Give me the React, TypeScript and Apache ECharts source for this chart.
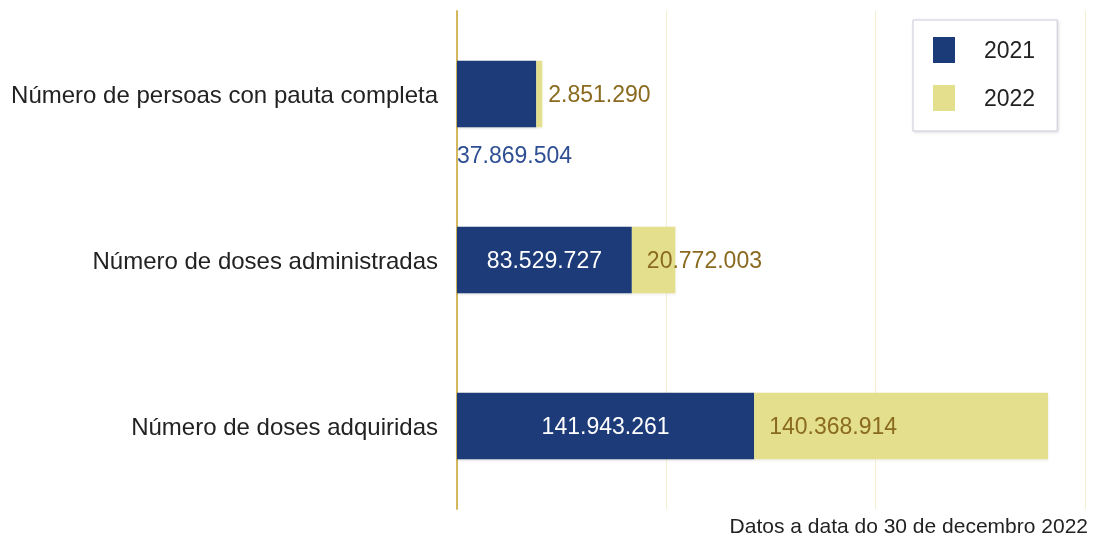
import React, { useEffect, useRef } from "react";
import * as echarts from "echarts";

const categories = [
  "Número de persoas con pauta completa",
  "Número de doses administradas",
  "Número de doses adquiridas",
];
const values2021 = [37869504, 83529727, 141943261];
const values2022 = [2851290, 20772003, 140368914];
const seriesNames = ["2021", "2022"];
const footnote = "Datos a data do 30 de decembro 2022";

const fmt = (v: number) => v.toString().replace(/\B(?=(\d{3})+(?!\d))/g, ".");

export default function App() {
  const ref = useRef<HTMLDivElement>(null);
  useEffect(() => {
    if (!ref.current) return;
    const chart = echarts.init(ref.current, null, { renderer: "svg" });
    const font = "Liberation Sans, Arial, sans-serif";
    chart.setOption({
      animation: false,
      textStyle: { fontFamily: font },
      grid: { left: 457, right: 11, top: 11, bottom: 34 },
      legend: {
        orient: "vertical",
        left: 913,
        top: 20,
        padding: [17, 22, 20, 20],
        itemWidth: 22,
        itemHeight: 26,
        itemGap: 22,
        borderColor: "#c9c9d9",
        borderWidth: 1,
        backgroundColor: "#fff",
        shadowBlur: 3,
        shadowColor: "rgba(0,0,0,0.15)",
        shadowOffsetX: 1,
        shadowOffsetY: 1,
        icon: "rect",
        textStyle: { fontSize: 23, color: "#222", padding: [0, 0, 0, 24], fontFamily: font },
        data: seriesNames,
      },
      xAxis: {
        type: "value",
        min: 0,
        max: 300000000,
        interval: 100000000,
        axisLabel: { show: false },
        axisLine: { show: false },
        axisTick: { show: false },
        splitLine: { show: true, lineStyle: { color: "#f4efcf", width: 1 } },
      },
      yAxis: {
        type: "category",
        inverse: true,
        data: categories,
        axisLine: { show: true, lineStyle: { color: "#d4b860", width: 2 } },
        axisTick: { show: false },
        axisLabel: { fontSize: 24, color: "#222", margin: 19, fontFamily: font },
      },
      series: [
        {
          name: seriesNames[0],
          type: "bar",
          stack: "total",
          barWidth: "40%",
          itemStyle: { color: "#1a3a78", shadowBlur: 2, shadowColor: "rgba(0,0,0,0.15)", shadowOffsetY: 1 },
          label: {
            show: true,
            position: "inside",
            color: "#fff",
            fontSize: 23,
            fontFamily: font,
            formatter: (p: any) => fmt(p.value),
          },
          data: values2021.map((v, i) =>
            i === 0
              ? {
                  value: v,
                  label: {
                    position: [0, "142%"],
                    align: "left",
                    verticalAlign: "middle",
                    color: "#2e4f93",
                  },
                }
              : v
          ),
        },
        {
          name: seriesNames[1],
          type: "bar",
          stack: "total",
          barWidth: "40%",
          itemStyle: { color: "#e4df8c", shadowBlur: 2, shadowColor: "rgba(0,0,0,0.1)", shadowOffsetY: 1 },
          label: {
            show: true,
            position: "insideLeft",
            distance: 15,
            color: "#8a6a1e",
            fontSize: 23,
            fontFamily: font,
            formatter: (p: any) => fmt(p.value),
          },
          data: values2022.map((v, i) =>
            i === 0 ? { value: v, label: { distance: 12 } } : v
          ),
        },
      ],
      graphic: [
        {
          type: "text",
          right: 8,
          top: 515,
          style: { text: footnote, fontSize: 21, fill: "#222", font: `21px ${font}` },
        },
      ],
    });
    return () => chart.dispose();
  }, []);
  return <div ref={ref} style={{ position: "fixed", left: 0, top: 0, width: 1096, height: 543 }} />;
}
